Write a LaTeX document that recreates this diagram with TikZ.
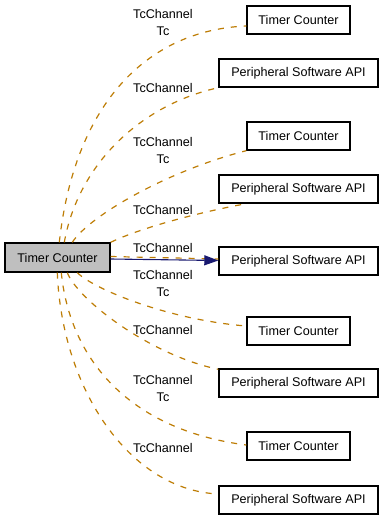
\documentclass[tikz,border=0pt]{standalone}
\usepackage{fontspec}
\setmainfont{Liberation Sans}
\usetikzlibrary{arrows.meta}
\definecolor{edgeorange}{RGB}{190,125,5}
\definecolor{boxgray}{RGB}{191,191,191}
\definecolor{usenavy}{RGB}{25,25,112}
\tikzset{
  cls/.style={draw=black, line width=1.4bp, fill=white, inner sep=0pt,
    minimum height=28bp, font=\fontsize{12.6bp}{15bp}\selectfont},
  tcbox/.style={cls, minimum width=103bp},
  apibox/.style={cls, minimum width=159bp},
  mainbox/.style={cls, fill=boxgray, minimum width=105bp, minimum height=29bp},
  rel/.style={draw=edgeorange, line width=1.2bp, dash pattern=on 6bp off 7bp},
  uses/.style={draw=usenavy, line width=1.1bp, -{Triangle[length=14bp,width=10bp]}},
  lbl/.style={align=center, inner sep=0pt, font=\fontsize{12.6bp}{17bp}\selectfont}
}
\begin{document}
\begin{tikzpicture}[x=1bp,y=-1bp]
\useasboundingbox (0,0) rectangle (384,520);
\fill[white] (0,0) rectangle (384,520);

% main class and its collaborators
\node[mainbox] (c) at (57.5,257.5) {Timer Counter};
\node[tcbox]  (n1) at (298.5,20)  {Timer Counter};
\node[apibox] (n2) at (298.5,73)  {Peripheral Software API};
\node[tcbox]  (n3) at (298.5,136) {Timer Counter};
\node[apibox] (n4) at (298.5,189) {Peripheral Software API};
\node[apibox] (n5) at (298.5,261) {Peripheral Software API};
\node[tcbox]  (n6) at (298.5,331) {Timer Counter};
\node[apibox] (n7) at (298.5,383) {Peripheral Software API};
\node[tcbox]  (n8) at (298.5,446) {Timer Counter};
\node[apibox] (n9) at (298.5,500) {Peripheral Software API};

% member labels
\node[lbl] (l1) at (163,22.5)  {TcChannel\\Tc};
\node[lbl] (l2) at (163,88)    {TcChannel};
\node[lbl] (l3) at (163,150.5) {TcChannel\\Tc};
\node[lbl] (l4) at (163,210)   {TcChannel};
\node[lbl] (l5) at (163,248)   {TcChannel};
\node[lbl] (l6) at (163,283)   {TcChannel\\Tc};
\node[lbl] (l7) at (163,330)   {TcChannel};
\node[lbl] (l8) at (163,388)   {TcChannel\\Tc};
\node[lbl] (l9) at (163,448)   {TcChannel};

% template relations
\draw[rel] ([xshift=55bp]c.north west) .. controls (75,100) and (150,30) .. ([yshift=-6bp]n1.west);
\draw[rel] ([xshift=60bp]c.north west) .. controls (78,165) and (140,105) .. (n2.south west);
\draw[rel] ([xshift=68bp]c.north west) .. controls (90,215) and (170,170) .. (n3.south west);
\draw[rel] (c.north east) .. controls (140,228) and (200,212) .. ([xshift=28bp]n4.south west);
\draw[rel] ([yshift=1bp]c.east) -- ([yshift=2bp]n5.west);
\draw[rel] ([xshift=73bp]c.south west) .. controls (95,290) and (170,320) .. ([yshift=5bp]n6.west);
\draw[rel] ([xshift=63bp]c.south west) .. controls (78,300) and (150,355) .. ([yshift=-1bp]n7.north west);
\draw[rel] ([xshift=57bp]c.south west) .. controls (70,360) and (130,430) .. ([yshift=1bp]n8.west);
\draw[rel] ([xshift=53bp]c.south west) .. controls (62,390) and (130,490) .. ([yshift=6bp]n9.west);

% usage relation
\draw[uses] ([yshift=-1.5bp]c.east) -- ([yshift=0.5bp]n5.west);
\end{tikzpicture}
\end{document}
